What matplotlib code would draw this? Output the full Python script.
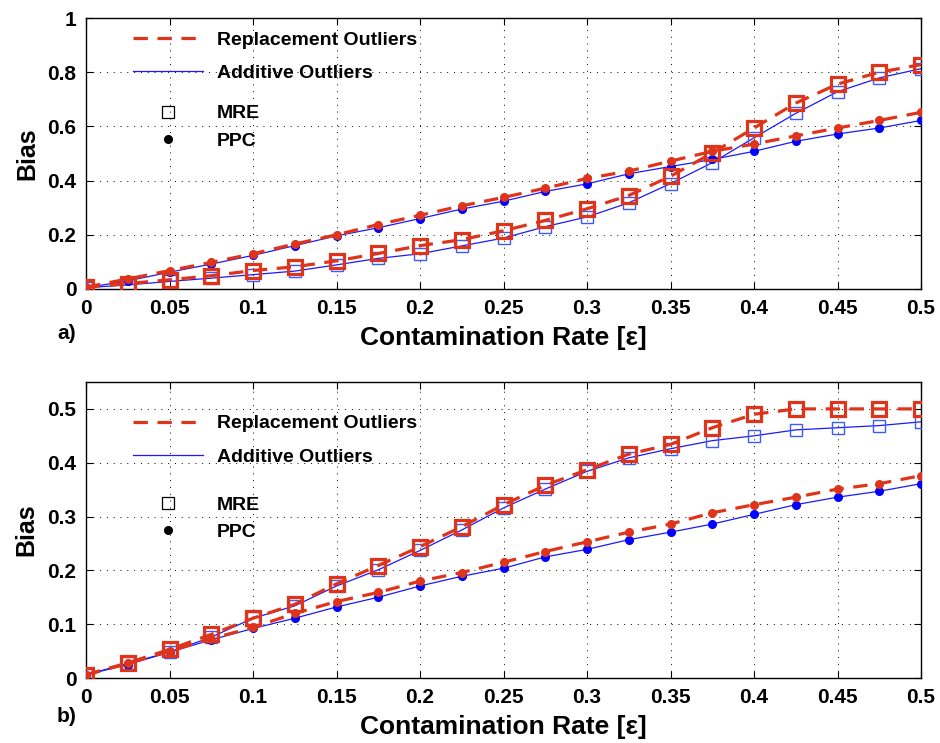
import matplotlib
matplotlib.use("Agg")
import matplotlib.pyplot as plt
from matplotlib.lines import Line2D
from matplotlib.ticker import FuncFormatter

plt.rcParams['font.family'] = ['Liberation Sans', 'DejaVu Sans']

eps = [0, 0.025, 0.05, 0.075, 0.1, 0.125, 0.15, 0.175, 0.2, 0.225, 0.25,
       0.275, 0.3, 0.325, 0.35, 0.375, 0.4, 0.425, 0.45, 0.475, 0.5]

# Panel a)
a_rep_ppc = [0.007, 0.037, 0.068, 0.098, 0.130, 0.166, 0.200, 0.238, 0.272, 0.307, 0.338,
             0.372, 0.408, 0.435, 0.472, 0.508, 0.535, 0.565, 0.594, 0.622, 0.652]
a_add_ppc = [0.005, 0.030, 0.062, 0.092, 0.124, 0.160, 0.196, 0.226, 0.260, 0.295, 0.324,
             0.360, 0.388, 0.425, 0.452, 0.478, 0.508, 0.545, 0.572, 0.594, 0.622]
a_rep_mre = [0.007, 0.020, 0.034, 0.049, 0.068, 0.082, 0.104, 0.131, 0.160, 0.182, 0.215,
             0.253, 0.296, 0.345, 0.416, 0.502, 0.594, 0.686, 0.756, 0.800, 0.828]
a_add_mre = [0.005, 0.015, 0.028, 0.040, 0.053, 0.066, 0.089, 0.113, 0.130, 0.159, 0.188,
             0.230, 0.266, 0.318, 0.389, 0.466, 0.558, 0.648, 0.728, 0.779, 0.813]

# Panel b)
b_rep_ppc = [0.006, 0.027, 0.050, 0.073, 0.094, 0.120, 0.142, 0.159, 0.180, 0.196, 0.215,
             0.235, 0.253, 0.271, 0.286, 0.307, 0.322, 0.336, 0.351, 0.361, 0.376]
b_add_ppc = [0.006, 0.025, 0.048, 0.071, 0.092, 0.111, 0.132, 0.150, 0.171, 0.189, 0.204,
             0.225, 0.239, 0.257, 0.271, 0.286, 0.304, 0.322, 0.336, 0.347, 0.361]
b_rep_mre = [0.006, 0.028, 0.053, 0.081, 0.111, 0.137, 0.175, 0.209, 0.244, 0.281, 0.322,
             0.358, 0.387, 0.416, 0.434, 0.465, 0.490, 0.500, 0.500, 0.500, 0.500]
b_add_mre = [0.006, 0.027, 0.048, 0.076, 0.111, 0.134, 0.171, 0.201, 0.237, 0.275, 0.316,
             0.351, 0.384, 0.409, 0.426, 0.441, 0.450, 0.461, 0.465, 0.469, 0.476]

xticks = [0, 0.05, 0.1, 0.15, 0.2, 0.25, 0.3, 0.35, 0.4, 0.45, 0.5]
yticks_a = [0, 0.2, 0.4, 0.6, 0.8, 1]
yticks_b = [0, 0.1, 0.2, 0.3, 0.4, 0.5]

RED = '#e0341a'
BLUE = '#1a1aff'
BLUE_SQ = '#3b5bff'

fig = plt.figure(figsize=(9.4, 7.43), dpi=100)
ax1 = fig.add_axes([86/940, 1-289/743, 835/940, 271/743])
ax2 = fig.add_axes([86/940, 1-678/743, 835/940, 296/743])

fmt = FuncFormatter(lambda v, p: ('%g' % v))


def draw(ax, rep_ppc, add_ppc, rep_mre, add_mre, ylim, yticks, leg1_top, leg2_top, tag, tag_y):
    dash = dict(linestyle=(0, (4.5, 3)), linewidth=2.3, color=RED)
    ax.plot(eps, add_mre, '-', color=BLUE, linewidth=0.9, marker='s', markersize=9,
            markerfacecolor='none', markeredgecolor=BLUE_SQ, markeredgewidth=1.0, zorder=3)
    ax.plot(eps, add_ppc, '-', color=BLUE, linewidth=0.9, marker='o', markersize=5.5,
            markerfacecolor='#0000ff', markeredgecolor='#0000ff', zorder=3)
    ax.plot(eps, rep_mre, marker='s', markersize=10, markerfacecolor='none',
            markeredgecolor=RED, markeredgewidth=2.3, zorder=4, **dash)
    ax.plot(eps, rep_ppc, marker='o', markersize=5.5, markerfacecolor=RED,
            markeredgecolor=RED, zorder=4, **dash)

    ax.set_xlim(0, 0.5)
    ax.set_ylim(*ylim)
    ax.set_xticks(xticks)
    ax.set_yticks(yticks)
    ax.xaxis.set_major_formatter(fmt)
    ax.yaxis.set_major_formatter(fmt)
    ax.tick_params(direction='in', length=5, width=0.8, top=True, right=True,
                   labelsize=15, pad=7)
    for lab in ax.get_xticklabels() + ax.get_yticklabels():
        lab.set_fontweight('bold')
    ax.grid(True, color='black', linestyle=(0, (1, 6)), linewidth=0.7)
    for s in ax.spines.values():
        s.set_linewidth(1.0)
    ax.set_xlabel('Contamination Rate [ε]', fontsize=19, fontweight='bold', labelpad=6)
    ax.set_ylabel('Bias', fontsize=18, fontweight='bold', labelpad=6)

    h1 = [Line2D([], [], **dash),
          Line2D([], [], color=BLUE, linewidth=0.9)]
    l1 = ax.legend(h1, ['Replacement Outliers', 'Additive Outliers'], loc='upper left',
                   bbox_to_anchor=(0.0563, leg1_top), frameon=False, borderpad=0,
                   borderaxespad=0, handlelength=3.6, handletextpad=0.7,
                   labelspacing=0.82, prop=dict(size=14, weight='bold'))
    ax.add_artist(l1)
    h2 = [Line2D([], [], linestyle='none', marker='s', markersize=9,
                 markerfacecolor='none', markeredgecolor='black', markeredgewidth=0.9),
          Line2D([], [], linestyle='none', marker='o', markersize=5.5,
                 markerfacecolor='black', markeredgecolor='black')]
    ax.legend(h2, ['MRE', 'PPC'], loc='upper left', bbox_to_anchor=(0.0563, leg2_top),
              frameon=False, borderpad=0, borderaxespad=0, handlelength=3.6,
              handletextpad=0.7, labelspacing=0.5, prop=dict(size=14, weight='bold'))
    fig.text(57/940, 1-tag_y/743, tag, fontsize=15, fontweight='bold', va='center',
             ha='left')


draw(ax1, a_rep_ppc, a_add_ppc, a_rep_mre, a_add_mre, (0, 1), yticks_a, 0.952, 0.68,
     'a)', 333)
draw(ax2, b_rep_ppc, b_add_ppc, b_rep_mre, b_add_mre, (0, 0.55), yticks_b, 0.889, 0.615,
     'b)', 717)

fig.savefig('out.png', dpi=100)
